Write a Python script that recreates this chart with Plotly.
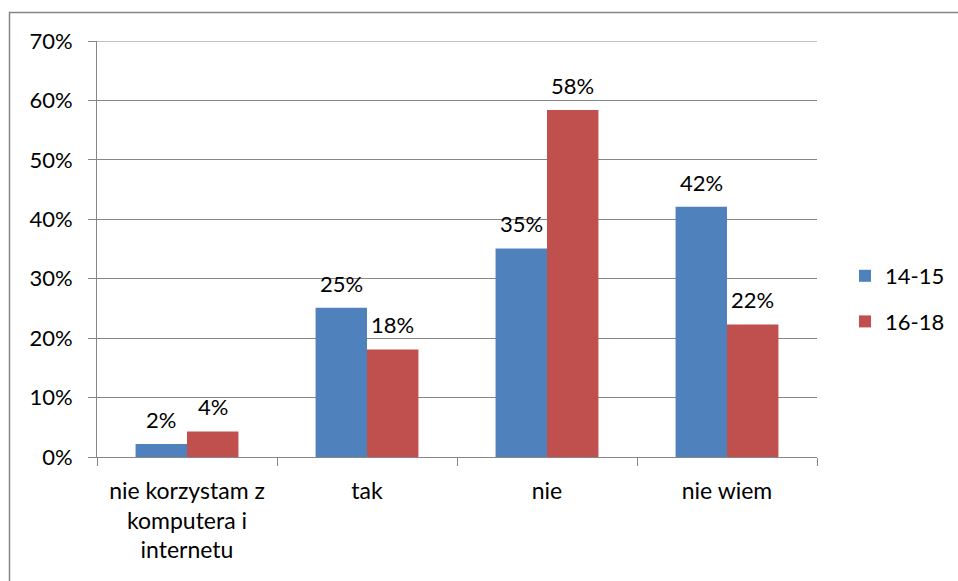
import plotly.graph_objects as go

categories = ["nie korzystam z<br>komputera i<br>internetu", "tak", "nie", "nie wiem"]
series_names = ["14-15", "16-18"]
values_14_15 = [0.022, 0.251, 0.351, 0.421]
values_16_18 = [0.043, 0.181, 0.584, 0.223]
colors = ["#4F81BD", "#C0504D"]
y_tickvals = [0, 0.1, 0.2, 0.3, 0.4, 0.5, 0.6, 0.7]
y_ticktext = ["0%", "10%", "20%", "30%", "40%", "50%", "60%", "70%"]

FONT = "Lato, Carlito, Calibri, sans-serif"
W, H = 958, 581
L, R, T, B = 97, 141, 41, 124
pw, ph = W - L - R, H - T - B
BARGAP = 0.4286
half_bar_px = (pw / len(categories)) * (1 - BARGAP) / 4

fig = go.Figure()
for name, vals, col in zip(series_names, [values_14_15, values_16_18], colors):
    fig.add_trace(go.Bar(
        x=categories, y=vals, name=name, legendgroup=name,
        marker=dict(color=col, line=dict(width=0)),
        cliponaxis=False,
    ))

annotations = []
for i, vals in enumerate([values_14_15, values_16_18]):
    shift = -half_bar_px if i == 0 else half_bar_px
    for c, v in zip(categories, vals):
        annotations.append(dict(x=c, y=v, xref="x", yref="y", text=f"{round(v * 100)}%",
                                showarrow=False, xanchor="center", yanchor="bottom",
                                xshift=shift, yshift=9,
                                font=dict(family=FONT, size=22, color="#000000")))

fig.update_layout(
    width=W, height=H, autosize=False,
    margin=dict(l=L, r=R, t=T, b=B, pad=0, autoexpand=False),
    paper_bgcolor="white", plot_bgcolor="white",
    barmode="group", bargap=BARGAP, bargroupgap=0,
    font=dict(family=FONT, size=22, color="#000000"),
    showlegend=True,
    legend=dict(xref="container", yref="container", x=845 / W, y=(H - 299) / H,
                xanchor="left", yanchor="middle",
                font=dict(family=FONT, size=22), traceorder="grouped", tracegroupgap=14,
                bgcolor="rgba(0,0,0,0)", itemwidth=30),
    xaxis=dict(type="category", showgrid=False, showline=True, linecolor="#868686", linewidth=1,
               ticks="outside", tickson="boundaries", ticklen=8, tickcolor="#868686",
               ticklabelstandoff=13,
               tickfont=dict(family=FONT, size=23)),
    yaxis=dict(range=[0, 0.7], tickvals=y_tickvals, ticktext=y_ticktext,
               showgrid=True, gridcolor="#868686", gridwidth=1,
               showline=True, linecolor="#868686", linewidth=1,
               ticks="outside", ticklen=8, tickcolor="#868686",
               ticklabelstandoff=11,
               tickfont=dict(family=FONT, size=22), zeroline=False),
    annotations=annotations,
    shapes=[
        dict(type="line", xref="paper", yref="y", x0=0, x1=1, y0=0.7, y1=0.7,
             line=dict(color="#868686", width=1), layer="below"),
        dict(type="rect", xref="paper", yref="paper",
             x0=(9.5 - L) / pw, x1=(975 - L) / pw,
             y0=(H - B - 600) / ph, y1=(H - B - 12.5) / ph,
             line=dict(color="#868686", width=1.5), fillcolor="rgba(0,0,0,0)", layer="below"),
    ],
)

fig.write_html("out.html", config={"displayModeBar": False},
               post_script="document.body.style.margin='0';document.body.style.padding='0';")
